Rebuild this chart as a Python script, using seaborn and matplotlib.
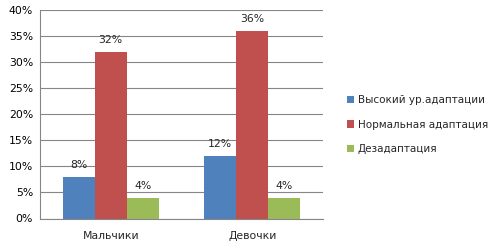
import matplotlib
matplotlib.use("Agg")
import matplotlib.pyplot as plt
import seaborn as sns
import pandas as pd

categories = ["Мальчики", "Девочки"]
series = ["Высокий ур.адаптации", "Нормальная адаптация", "Дезадаптация"]
high = [8, 12]
normal = [32, 36]
maladapt = [4, 4]
colors = ["#4F81BD", "#C0504D", "#9BBB59"]

rows = []
for s, vals in zip(series, [high, normal, maladapt]):
    for c, v in zip(categories, vals):
        rows.append({"cat": c, "series": s, "val": v})
df = pd.DataFrame(rows)

sns.set_style("white")
plt.rcParams["font.family"] = ["DejaVu Sans"]

fig = plt.figure(figsize=(4.93, 2.44), dpi=100)
ax = fig.add_axes([40/493, 1-218.5/244, (323-40)/493, (218.5-10)/244])

sns.barplot(data=df, x="cat", y="val", hue="series", palette=colors,
            width=0.68, ax=ax, saturation=1, edgecolor="none", linewidth=0)

ax.set_ylim(0, 40)
ax.set_xlim(-0.5, 1.5)
ax.set_yticks(range(0, 41, 5))
ax.set_yticklabels([f"{t}%" for t in range(0, 41, 5)], fontsize=7.8, color="#000000")
ax.set_xticks([-0.5, 0.5, 1.5], minor=False)
ax.set_xticklabels([])
ax.set_xticks([0, 1], minor=True)
ax.set_xticklabels(categories, minor=True, fontsize=7.8)
ax.tick_params(axis="x", which="minor", length=0, pad=9)
ax.tick_params(axis="x", which="major", length=4, color="#868686", direction="out")
ax.tick_params(axis="y", length=3, color="#868686", direction="out", pad=2)
ax.set_xlabel("")
ax.set_ylabel("")
ax.yaxis.grid(True, color="#868686", linewidth=0.8)
ax.set_axisbelow(True)
for side in ["top", "right"]:
    ax.spines[side].set_visible(False)
for side in ["left", "bottom"]:
    ax.spines[side].set_color("#868686")
    ax.spines[side].set_linewidth(0.8)

for cont in ax.containers:
    ax.bar_label(cont, labels=[f"{int(v)}%" for v in cont.datavalues],
                 padding=5, fontsize=7.8)

handles, labels = ax.get_legend_handles_labels()
ax.legend(handles, labels, loc="center left", bbox_to_anchor=(1.05, 0.45),
          frameon=False, fontsize=7.5, handlelength=0.7, handleheight=0.7,
          handletextpad=0.4, labelspacing=1.4)

fig.savefig("out.png", dpi=100)
